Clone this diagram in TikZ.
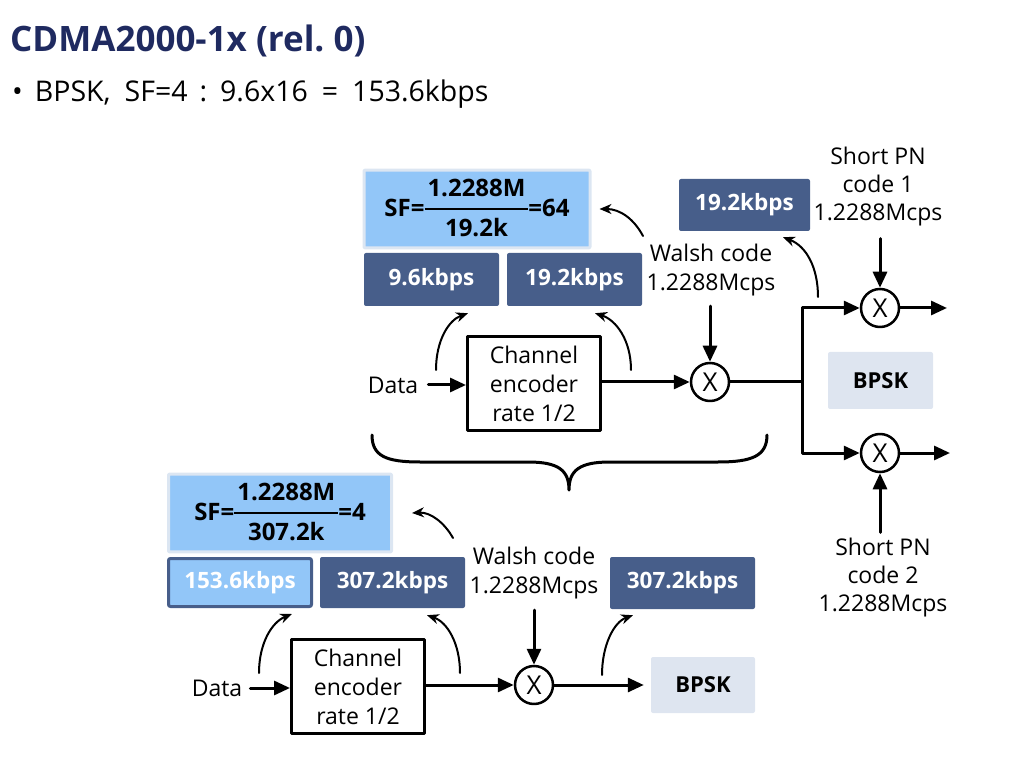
\documentclass[tikz,border=0pt]{standalone}
\usepackage{fontspec}
\setmainfont{Open Sans}
\usetikzlibrary{arrows.meta}
\definecolor{titlenavy}{RGB}{31,42,96}
\definecolor{boxdark}{RGB}{71,94,138}
\definecolor{sfblue}{RGB}{146,198,248}
\definecolor{sfedge}{RGB}{220,230,242}
\definecolor{bpskgray}{RGB}{222,229,240}
\newcommand{\chipfrac}[2]{\raisebox{1pt}{\setlength{\arrayrulewidth}{2.5pt}\renewcommand{\arraystretch}{1.45}\begin{tabular}{@{\hspace{3pt}}c@{\hspace{3pt}}}#1\\\hline #2\end{tabular}}}
\begin{document}
\begin{tikzpicture}[x=1pt, y=-1pt, line cap=round, line join=round, font=\fontsize{23}{29}\selectfont, >={Triangle[length=16pt,width=14pt]}]
	\tikzset{
		txt/.style={align=center, inner sep=0pt},
		ratebox/.style={fill=boxdark, rounded corners=2pt, text=white, font=\bfseries\fontsize{22.5}{26}\selectfont, minimum height=53pt},
		sfbox/.style={fill=sfblue, draw=sfedge, line width=3pt, rounded corners=1pt, font=\bfseries\fontsize{24}{26}\selectfont, minimum width=226pt, minimum height=72pt, inner sep=0pt},
		modbox/.style={fill=bpskgray, rounded corners=2pt, font=\bfseries\fontsize{22}{26}\selectfont, minimum width=105pt, minimum height=57pt},
		encbox/.style={draw, line width=3pt, align=center, minimum width=133pt, minimum height=94pt, inner sep=0pt},
		mixer/.style={circle, draw, line width=2.5pt, minimum size=38pt, inner sep=0pt, font=\fontsize{26}{30}\selectfont},
		sig/.style={->, line width=3pt},
		wire/.style={line width=3pt},
		hop/.style={-{Stealth[length=12pt,width=10pt]}, line width=2pt}
	}
	\useasboundingbox (0,0) rectangle (1018,759);
	% heading
	\node[anchor=base west, inner sep=0pt, text=titlenavy, font=\bfseries\fontsize{35}{40}\selectfont] (title) at (10,52) {CDMA2000-1x (rel.~0)};
	\node[anchor=base west, inner sep=0pt, font=\fontsize{28.5}{33}\selectfont] (bullet) at (12,102) {•\hspace{12pt}BPSK,\hspace{14pt}SF=4\hspace{12pt}:\hspace{13pt}9.6x16\hspace{14pt}=\hspace{14pt}153.6kbps};
	% upper chain
	\node[sfbox] (sf1) at (477,209) {SF=\chipfrac{1.2288M}{19.2k}=64};
	\node[ratebox, minimum width=135pt] (r96) at (431.5,279.5) {9.6kbps};
	\node[ratebox, minimum width=135pt] (r192a) at (574.5,279.5) {19.2kbps};
	\node[ratebox, minimum width=131pt, minimum height=52pt] (r192b) at (744.5,205) {19.2kbps};
	\node[txt] (walsh1) at (711,270) {Walsh code\\1.2288Mcps};
	\node[txt, font=\fontsize{23}{28}\selectfont] (pn1) at (878,187) {Short PN\\code 1\\1.2288Mcps};
	\node[txt] (data1) at (393,385) {Data};
	\node[encbox] (enc1) at (534,383.5) {Channel\\encoder\\rate 1/2};
	\node[mixer] (mul1) at (710,382) {X};
	\node[mixer] (mul2) at (880,308) {X};
	\node[mixer] (mul3) at (880,453) {X};
	\node[modbox] (bpsk1) at (880.5,380.5) {BPSK};
	\node[txt, font=\fontsize{23}{28}\selectfont] (pn2) at (883,578) {Short PN\\code 2\\1.2288Mcps};
	\coordinate (split) at (802,382);
	\coordinate (out1) at (947,308);
	\coordinate (out2) at (950,453);
	\draw[sig, shorten <=10pt] (data1.east) -- (data1.east -| enc1.west);
	\draw[sig] (enc1.east |- mul1) -- (mul1);
	\draw[wire] (mul1) -- (split);
	\draw[sig] (split) |- (mul2);
	\draw[sig] (split) |- (mul3);
	\draw[sig] (mul2) -- (out1);
	\draw[sig] (mul3) -- (out2);
	\draw[sig, shorten <=12pt] (mul2 |- pn1.south) -- (mul2);
	\draw[sig, shorten <=6pt] (mul3 |- pn2.north) -- (mul3);
	\draw[sig, shorten <=10pt] (walsh1.south -| mul1) -- (mul1);
	\coordinate (t1) at (436,370);
	\coordinate (t2) at (631,370);
	\coordinate (t3) at (643,236);
	\coordinate (t4) at (818,297);
	\draw[hop] (t1) .. controls (436,340) and (449,320) .. ([shift={(36.5,7)}]r96.south);
	\draw[hop] (t2) .. controls (631,340) and (616,320) .. ([shift={(20.5,7)}]r192a.south);
	\draw[hop] (t3) .. controls (634,219) and (620,209) .. ([xshift=8pt]sf1.east);
	\draw[hop] (t4) .. controls (818,267) and (806,246) .. ([shift={(38.5,6)}]r192b.south);
	% brace
	\draw[wire] (372,435) .. controls (372,456) and (386,462) .. (420,462) -- (528,462)
		.. controls (558,462) and (569,470) .. (569,490)
		.. controls (569,470) and (580,462) .. (610,462) -- (718,462)
		.. controls (752,462) and (767,456) .. (767,435);
	% lower chain
	\node[sfbox, minimum width=223pt, minimum height=71pt] (sf2) at (280,513) {SF=\chipfrac{1.2288M}{307.2k}=4};
	\node[ratebox, fill=sfblue, draw=boxdark, line width=3pt, minimum width=143pt, minimum height=48pt] (r1536) at (240,582.5) {153.6kbps};
	\node[ratebox, minimum width=145pt, minimum height=51pt] (r3072a) at (392.5,582.5) {307.2kbps};
	\node[txt] (walsh2) at (534,573) {Walsh code\\1.2288Mcps};
	\node[ratebox, minimum width=145pt, minimum height=52pt] (r3072b) at (682.5,583) {307.2kbps};
	\node[txt] (data2) at (217,688) {Data};
	\node[encbox] (enc2) at (358,686.5) {Channel\\encoder\\rate 1/2};
	\node[mixer] (mul4) at (534,685) {X};
	\node[modbox, minimum width=104pt, minimum height=56pt] (bpsk2) at (703,685) {BPSK};
	\draw[sig, shorten <=8pt] (data2.east) -- (data2.east -| enc2.west);
	\draw[sig] (enc2.east |- mul4) -- (mul4);
	\draw[sig, shorten >=7pt] (mul4) -- (bpsk2);
	\draw[sig, shorten <=11pt] (walsh2.south -| mul4) -- (mul4);
	\coordinate (t5) at (259,673);
	\coordinate (t6) at (460,673);
	\coordinate (t7) at (602,675);
	\coordinate (t8) at (453,538);
	\draw[hop] (t5) .. controls (259,643) and (272,622) .. ([shift={(52,6)}]r1536.south);
	\draw[hop] (t6) .. controls (460,643) and (447,622) .. ([shift={(34.5,7)}]r3072a.south);
	\draw[hop] (t7) .. controls (602,645) and (614,622) .. ([shift={(-49.5,6)}]r3072b.south);
	\draw[hop] (t8) .. controls (444,522) and (430,512) .. ([xshift=19pt]sf2.east);
\end{tikzpicture}
\end{document}
